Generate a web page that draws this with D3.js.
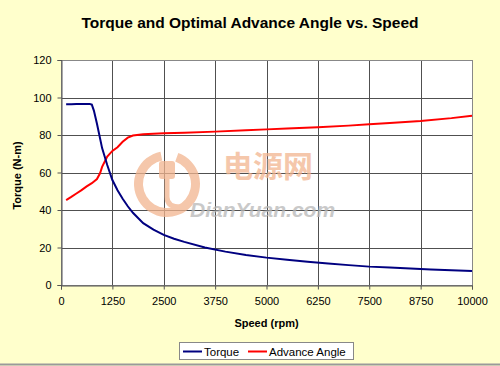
<!DOCTYPE html>
<html><head><meta charset="utf-8">
<script src="https://cdn.jsdelivr.net/npm/d3@7/dist/d3.min.js"></script>
<style>body{margin:0;background:#ffffcc;} svg{display:block;}</style>
</head><body><svg id="c" width="500" height="366"></svg>
<script>
const title = "Torque and Optimal Advance Angle vs. Speed";
const xTicks = [0,1250,2500,3750,5000,6250,7500,8750,10000];
const yTicks = [0,20,40,60,80,100,120];
const seriesNames = ["Torque","Advance Angle"];
const seriesColors = ["#000080","#ff0000"];
const torqueSpeed = [125,250,375,500,625,700,750,800,875,1000,1125,1250,1375,1500,1625,1750,2000,2250,2500,2750,3000,3500,4000,4500,5000,5500,6000,6500,7000,7500,8000,8500,9000,9500,10000];
const torqueValues = [96.4,96.4,96.5,96.5,96.5,96.5,96.2,93,86,73,64,56,50.5,46,42,38.5,33,29.5,26.7,24.7,23,20,17.8,16,14.6,13.5,12.4,11.5,10.6,9.8,9.3,8.8,8.3,7.9,7.5];
const angleSpeed = [125,250,375,500,625,750,875,950,1000,1125,1250,1375,1500,1625,1750,2000,2500,3000,3750,4500,5000,5500,6250,7000,7500,8000,8750,9500,10000];
const angleValues = [45.3,47,48.8,50.6,52.6,54.3,56.5,59.6,63,68.5,71.5,73.5,76.4,78.6,79.7,80.4,80.9,81.2,81.8,82.5,83,83.5,84.1,85,85.7,86.4,87.5,89,90.3];

const svg = d3.select("#c");
const L=61, R=472, T=60, B=285;
const x = d3.scaleLinear().domain([0,10000]).range([L,R]);
const y = d3.scaleLinear().domain([0,120]).range([B,T]);
const font = "Arial, 'Liberation Sans', sans-serif";

svg.append("rect").attr("width",500).attr("height",366).attr("fill","#ffffcc");
svg.append("line").attr("x1",0).attr("x2",500).attr("y1",364.5).attr("y2",364.5).attr("stroke","#9a9a9a").attr("stroke-width",2);

svg.append("text").attr("x",250).attr("y",28).attr("text-anchor","middle")
  .attr("font-family",font).attr("font-weight","bold").attr("font-size",15.5).attr("fill","#000").text(title);

svg.append("rect").attr("x",L).attr("y",T).attr("width",R-L).attr("height",B-T).attr("fill","#fff");

// grid
svg.append("g").selectAll("line").data(yTicks).join("line")
  .attr("x1",L).attr("x2",R).attr("y1",d=>Math.round(y(d))+0.5).attr("y2",d=>Math.round(y(d))+0.5)
  .attr("stroke","#505050").attr("stroke-width",1);
svg.append("g").selectAll("line").data(xTicks).join("line")
  .attr("y1",T).attr("y2",B).attr("x1",d=>Math.round(x(d))+0.5).attr("x2",d=>Math.round(x(d))+0.5)
  .attr("stroke","#505050").attr("stroke-width",1);
svg.append("rect").attr("x",L+0.5).attr("y",T+0.5).attr("width",R-L).attr("height",B-T)
  .attr("fill","none").attr("stroke","#888");

// axes
const yAxis = d3.axisLeft(y).tickValues(yTicks).tickSize(4).tickPadding(6);
const gy = svg.append("g").attr("transform",`translate(${L+0.5},0)`).call(yAxis);
const xAxis = d3.axisBottom(x).tickValues(xTicks).tickSize(4).tickPadding(8).tickFormat(d3.format("d"));
const gx = svg.append("g").attr("transform",`translate(0,${B+0.5})`).call(xAxis);
[gx,gy].forEach(g=>{
  g.select(".domain").attr("stroke","#555");
  g.selectAll(".tick line").attr("stroke","#555");
  g.selectAll("text").attr("font-family",font).attr("font-size",11).attr("fill","#000");
});

// watermark
const wm = svg.append("g").attr("opacity",0.75);
wm.append("path").attr("d",d3.arc()({innerRadius:24,outerRadius:33,startAngle:0.35,endAngle:2*Math.PI-0.2}))
  .attr("transform","translate(167,184)").attr("fill","#f2b58f");
wm.append("rect").attr("x",159).attr("y",161).attr("width",16).attr("height",18).attr("rx",3).attr("fill","#f2b58f");
wm.append("path").attr("d","M167,179 L167,197 Q167,207 180,207").attr("fill","none").attr("stroke","#f2b58f").attr("stroke-width",5);
wm.append("text").attr("x",223).attr("y",177).attr("font-family","'Noto Sans CJK SC', sans-serif").attr("font-weight","bold")
  .attr("font-size",30).attr("fill","#f2b58f").text("电源网");
wm.append("text").attr("x",190).attr("y",217).attr("font-family",font).attr("font-weight","bold").attr("font-style","italic")
  .attr("font-size",21).attr("fill","#b8b8b8").text("DianYuan.com");

// lines
const line = d3.line().x(d=>x(d[0])).y(d=>y(d[1]));
svg.append("path").datum(d3.zip(angleSpeed,angleValues)).attr("d",line)
  .attr("fill","none").attr("stroke",seriesColors[1]).attr("stroke-width",2);
svg.append("path").datum(d3.zip(torqueSpeed,torqueValues)).attr("d",line)
  .attr("fill","none").attr("stroke",seriesColors[0]).attr("stroke-width",2);

// axis titles
svg.append("text").attr("x",(L+R)/2).attr("y",327).attr("text-anchor","middle")
  .attr("font-family",font).attr("font-weight","bold").attr("font-size",11).text("Speed (rpm)");
svg.append("text").attr("transform",`translate(21,${(T+B)/2+3}) rotate(-90)`).attr("text-anchor","middle")
  .attr("font-family",font).attr("font-weight","bold").attr("font-size",11).text("Torque (N-m)");

// legend
const lg = svg.append("g");
lg.append("rect").attr("x",179.5).attr("y",342.5).attr("width",174).attr("height",17).attr("fill","#fff").attr("stroke","#888");
const items = [{x:183,name:seriesNames[0],c:seriesColors[0]},{x:248,name:seriesNames[1],c:seriesColors[1]}];
items.forEach(it=>{
  lg.append("line").attr("x1",it.x).attr("x2",it.x+19).attr("y1",351.5).attr("y2",351.5).attr("stroke",it.c).attr("stroke-width",2);
  lg.append("text").attr("x",it.x+21).attr("y",355.5).attr("font-family",font).attr("font-size",11.5).text(it.name);
});
</script></body></html>
